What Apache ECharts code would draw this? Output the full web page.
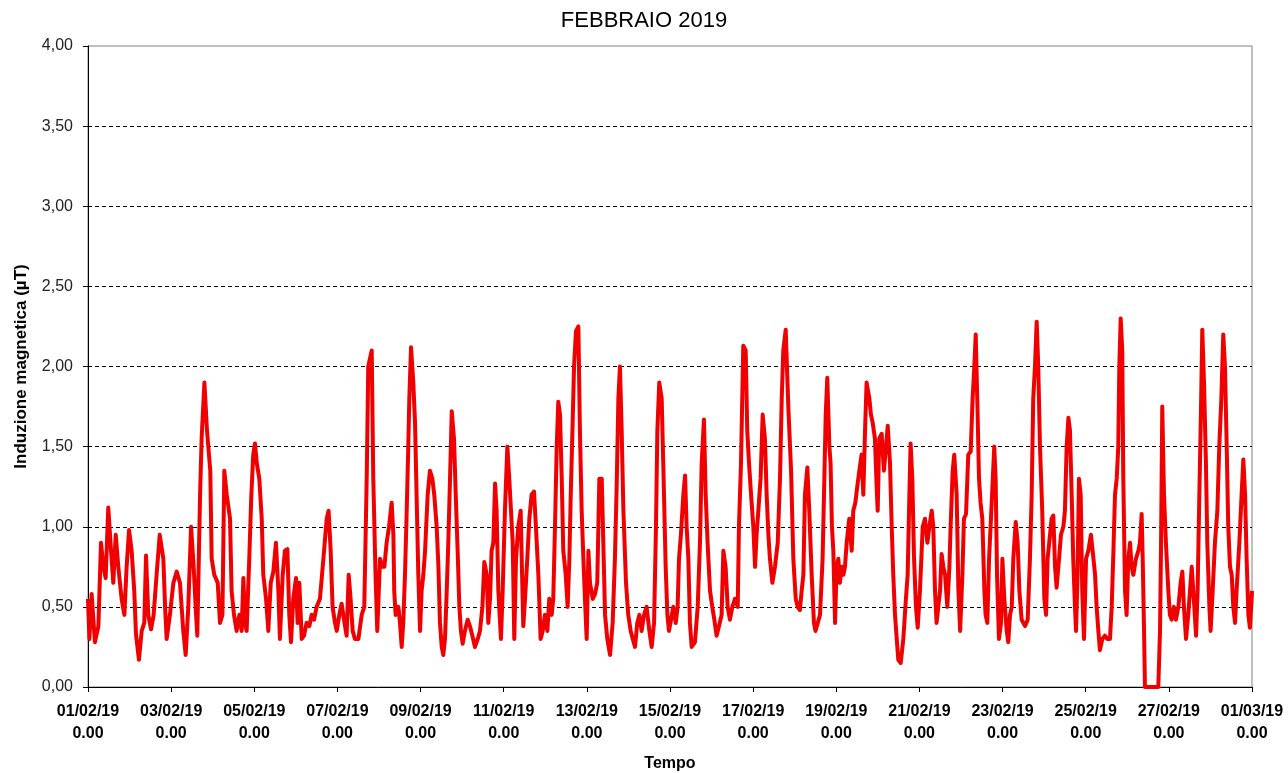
<!DOCTYPE html>
<html>
<head>
<meta charset="utf-8">
<script src="https://cdn.jsdelivr.net/npm/echarts@6/dist/echarts.min.js"></script>
<style>
html,body{margin:0;padding:0;background:#fff;}
#chart{width:1288px;height:773px;}
</style>
</head>
<body>
<div id="chart"></div>
<script>
// Hours elapsed since 01/02/19 0.00
const hours = [0,0.8,2.1,4.0,6.0,7.5,8.9,10.2,11.7,13.3,14.6,16.0,17.5,19.4,21.0,22.3,23.7,25.2,26.7,27.7,29.4,31.0,32.5,33.5,34.8,36.4,37.9,39.6,41.4,43.5,44.5,45.4,47.3,49.3,51.2,53.1,55.0,56.4,57.9,59.5,61.0,62.4,63.1,64.7,65.6,67.2,68.7,70.6,71.4,72.9,74.9,76.2,77.6,78.7,80.1,82.0,82.9,84.3,
85.8,87.4,88.7,89.7,90.6,91.6,93.1,94.3,95.4,96.4,97.4,98.9,100.3,101.2,102.8,104.1,105.5,107.0,108.5,109.9,110.8,112.4,113.7,115.1,116.2,117.2,118.5,120.1,121.0,122.0,123.4,124.7,126.2,127.8,129.1,130.5,132.0,133.9,135.9,137.8,138.9,140.1,141.2,142.6,143.6,145.1,146.4,147.8,149.3,150.5,151.6,152.8,154.1,156.1,158.0,159.5,160.9,161.8,163.8,164.7,166.0,167.0,
168.6,169.9,171.1,172.4,173.8,175.3,176.3,176.8,177.6,179.2,180.1,181.1,182.0,183.0,184.0,184.9,185.5,186.5,187.8,188.8,189.7,190.7,191.7,192.6,193.6,194.6,196.1,197.4,198.8,199.9,201.3,202.3,203.2,204.2,205.1,206.1,207.1,208.0,209.0,210.0,211.3,212.3,213.4,214.4,215.3,216.3,217.6,219.2,220.5,221.9,223.4,225.0,226.3,227.7,228.8,230.2,231.1,232.1,233.0,234.0,235.0,235.9,236.9,238.4,239.4,240.7,242.1,243.2,244.2,245.2,246.1,247.1,248.4,249.8,250.6,
251.3,252.3,253.6,254.8,256.1,257.5,258.6,260.0,261.3,262.5,263.8,265.2,266.3,267.7,268.6,269.6,270.6,271.5,272.5,273.5,274.4,275.8,276.9,277.9,278.7,279.8,280.6,281.7,283.1,284.0,285.0,286.0,286.9,287.9,288.9,289.8,291.4,292.7,294.0,295.2,296.6,297.5,298.5,299.8,301.4,302.9,304.2,305.2,306.2,307.1,308.1,309.1,310.6,311.9,313.3,314.5,315.8,317.1,318.3,319.6,321.0,322.5,324.1,325.4,326.8,327.9,328.7,329.8,331.2,332.1,333.5,334.5,
335.4,336.6,337.9,339.3,340.4,341.2,342.3,343.7,344.7,345.6,346.6,347.5,348.5,350.4,352.0,353.3,354.3,355.6,356.6,357.7,359.1,360.4,361.6,362.9,364.3,365.8,366.8,368.1,369.3,370.6,372.0,373.5,375.1,375.8,377.0,378.3,379.7,380.6,381.6,382.8,384.1,385.1,386.0,387.0,388.3,389.5,390.8,391.8,392.8,393.7,395.1,396.6,398.2,399.5,400.5,401.4,402.8,404.3,405.9,407.2,408.6,409.7,411.0,412.0,413.0,413.9,415.3,416.4,417.8,419.1,
420.0,421.1,422.6,424.1,424.9,425.9,426.8,428.0,428.7,429.5,430.3,431.3,432.2,433.2,434.1,435.1,436.1,437.0,438.0,439.5,440.9,441.8,443.0,444.1,445.3,446.6,447.6,448.6,449.5,451.1,452.0,453.0,454.3,455.3,455.9,456.8,458.2,459.5,460.7,461.7,463.0,464.0,464.9,465.9,466.9,467.8,469.2,470.7,472.2,473.2,474.2,474.9,475.9,476.9,478.0,479.0,480.3,481.9,483.2,484.6,485.7,487.1,488.0,489.0,489.9,490.9,491.9,492.8,493.8,494.8,496.1,497.3,498.0,499.2,500.1,501.5,502.5,
503.5,504.8,505.7,506.9,508.2,509.6,510.7,511.7,512.5,513.6,514.4,515.3,516.3,517.5,518.2,519.2,520.2,521.3,522.3,523.2,524.0,524.8,525.9,527.1,527.9,529.0,530.4,531.3,532.3,533.3,534.2,535.6,536.7,537.7,539.0,541.0,542.5,543.8,544.8,545.7,546.7,547.7,548.6,549.6,550.9,552.1,553.1,554.0,555.4,556.3,557.3,558.3,559.2,560.6,561.7,563.1,564.0,565.0,566.0,566.9,567.9,568.8,569.8,570.4,571.3,572.1,573.1,574.0,575.0,576.2,577.5,579.0,580.0,581.4,582.3,583.3,584.2,585.6,586.5,
587.1,588.5,590.0,591.0,592.0,592.9,593.9,594.8,595.4,596.2,597.1,597.7,598.7,599.6,600.6,601.6,602.5,603.5,605.0,606.4,607.3,608.3,608.9,609.6,610.2,617.9,618.9,619.5,620.2,621.2,622.3,623.7,624.6,625.6,626.9,628.1,629.5,630.8,631.8,632.7,633.9,635.2,636.2,637.2,638.1,638.7,639.7,640.6,641.6,642.5,643.3,644.3,645.4,646.2,647.4,648.1,649.3,650.6,652.0,653.1,654.3,655.4,656.4,657.4,658.3,659.3,660.3,661.2,662.2,663.1,664.7,666.0,667.0,668.0,668.9,669.9,670.8,671.8,672];

// Magnetic induction (µT)
const induction = [0.55,0.3,0.58,0.28,0.38,0.9,0.75,0.68,1.12,0.85,0.65,0.95,0.75,0.55,0.45,0.75,0.98,0.85,0.6,0.33,0.17,0.35,0.4,0.82,0.45,0.36,0.45,0.7,0.95,0.8,0.5,0.3,0.45,0.65,0.72,0.65,0.35,0.2,0.5,1.0,0.75,0.45,0.32,1.2,1.55,1.9,1.6,1.35,0.8,0.7,0.65,0.4,0.45,1.35,1.2,1.05,0.6,0.45,
0.35,0.45,0.35,0.68,0.4,0.35,0.8,1.2,1.45,1.52,1.4,1.3,1.05,0.7,0.55,0.35,0.65,0.72,0.9,0.6,0.3,0.7,0.85,0.86,0.45,0.28,0.55,0.68,0.4,0.65,0.3,0.32,0.4,0.38,0.45,0.42,0.5,0.55,0.8,1.05,1.1,0.85,0.5,0.4,0.35,0.45,0.52,0.42,0.32,0.7,0.55,0.35,0.3,0.3,0.45,0.5,1.3,2.0,2.1,1.3,0.7,0.35,
0.8,0.75,0.75,0.9,1.0,1.15,0.95,0.6,0.45,0.5,0.4,0.25,0.4,0.7,1.1,1.5,1.8,2.12,1.9,1.65,1.2,0.7,0.35,0.6,0.7,0.85,1.2,1.35,1.3,1.2,1.0,0.75,0.4,0.25,0.2,0.3,0.6,0.9,1.3,1.72,1.55,1.2,0.85,0.5,0.35,0.27,0.35,0.42,0.38,0.32,0.25,0.3,0.35,0.5,0.78,0.7,0.4,0.55,0.85,0.9,1.27,1.1,0.6,0.3,0.6,1.1,1.5,1.3,1.1,0.9,0.3,0.8,1.0,1.1,0.7,
0.38,0.55,0.8,1.05,1.2,1.22,1.0,0.7,0.3,0.35,0.45,0.35,0.55,0.45,0.55,1.0,1.5,1.78,1.7,1.3,0.85,0.7,0.5,0.8,1.2,1.65,2.0,2.22,2.25,1.6,1.1,0.8,0.55,0.3,0.85,0.65,0.55,0.58,0.65,1.3,1.3,0.9,0.45,0.3,0.2,0.4,0.8,1.25,1.8,2.0,1.6,1.1,0.65,0.45,0.35,0.3,0.25,0.4,0.45,0.35,0.45,0.5,0.35,0.25,0.4,1.0,1.6,1.9,1.8,1.4,0.75,0.45,
0.35,0.42,0.5,0.4,0.5,0.8,0.95,1.2,1.32,1.0,0.8,0.4,0.25,0.28,0.5,0.9,1.4,1.67,1.2,0.9,0.6,0.5,0.42,0.32,0.38,0.45,0.85,0.75,0.5,0.42,0.5,0.55,0.5,1.0,1.4,2.13,2.1,1.6,1.4,1.2,1.0,0.75,0.95,1.1,1.3,1.7,1.55,1.2,0.95,0.8,0.65,0.75,0.9,1.3,1.8,2.1,2.23,1.75,1.35,0.8,0.55,0.5,0.48,0.6,0.7,1.2,1.37,1.1,0.7,0.4,
0.35,0.35,0.45,0.8,1.2,1.7,1.93,1.5,1.4,1.0,0.85,0.4,0.75,0.8,0.65,0.75,0.7,0.75,0.9,1.05,0.85,1.1,1.15,1.25,1.35,1.45,1.2,1.6,1.9,1.8,1.7,1.65,1.55,1.25,1.1,1.55,1.58,1.35,1.5,1.63,1.4,1.0,0.7,0.45,0.3,0.17,0.15,0.3,0.55,0.7,1.2,1.52,1.3,0.8,0.5,0.37,0.6,1.0,1.05,0.9,1.0,1.1,1.0,0.6,0.4,0.5,0.6,0.83,0.75,0.7,0.5,0.75,1.0,1.35,1.45,1.2,0.6,
0.35,0.7,1.05,1.08,1.45,1.47,1.8,2.0,2.2,1.7,1.3,1.15,1.05,0.6,0.45,0.4,0.8,1.05,1.05,1.5,1.3,0.7,0.3,0.4,0.8,0.55,0.35,0.28,0.45,0.5,0.8,1.03,0.9,0.6,0.42,0.38,0.42,0.8,1.2,1.8,2.0,2.28,2.0,1.5,1.1,0.55,0.45,0.8,0.95,1.05,1.07,0.75,0.62,0.8,0.95,1.0,1.1,1.5,1.68,1.6,1.2,0.8,0.5,0.35,0.7,1.3,1.2,0.6,0.3,0.8,0.85,0.95,0.85,0.7,0.5,0.35,0.23,0.3,0.3,
0.32,0.3,0.3,0.5,0.85,1.2,1.3,1.5,2.0,2.3,2.1,1.3,0.6,0.45,0.8,0.9,0.75,0.7,0.8,0.85,0.9,1.08,0.8,0.4,0,0,0.35,0.9,1.75,1.2,0.9,0.6,0.45,0.42,0.5,0.42,0.5,0.65,0.72,0.5,0.3,0.45,0.6,0.75,0.75,0.5,0.32,0.6,1.2,1.7,2.23,1.9,1.4,0.9,0.5,0.35,0.6,0.9,1.1,1.5,1.8,2.2,2.0,1.5,1.0,0.75,0.7,0.5,0.4,0.6,0.9,1.2,1.42,1.2,0.8,0.45,0.37,0.55,0.6];

const tickDates = ['01/02/19','03/02/19','05/02/19','07/02/19','09/02/19','11/02/19','13/02/19','15/02/19','17/02/19','19/02/19','21/02/19','23/02/19','25/02/19','27/02/19','01/03/19'];
const tickTime = '0.00';
const titleText = 'FEBBRAIO 2019';
const yName = 'Induzione magnetica (µT)';
const xName = 'Tempo';

const FONT = '"Liberation Sans", Arial, sans-serif';
const chart = echarts.init(document.getElementById('chart'), null, {renderer: 'canvas'});
chart.setOption({
  animation: false,
  backgroundColor: '#ffffff',
  title: {
    text: titleText, left: 'center', top: 5,
    textStyle: {fontFamily: FONT, fontSize: 22, fontWeight: 'normal', color: '#000'}
  },
  grid: {left: 88, right: 36, top: 46, bottom: 86, outerBoundsMode: 'none', containLabel: false,
    show: true, borderColor: '#808080', borderWidth: 1, backgroundColor: 'transparent'},
  xAxis: {
    type: 'value', min: 0, max: 672, interval: 48,
    name: xName, nameLocation: 'middle', nameGap: 69,
    nameTextStyle: {fontFamily: FONT, fontSize: 16, fontWeight: 'bold', color: '#000'},
    axisLine: {show: true, lineStyle: {color: '#000', width: 1}},
    axisTick: {show: true, length: 5, lineStyle: {color: '#000'}},
    axisLabel: {
      fontFamily: FONT, fontSize: 16, fontWeight: 'bold', color: '#000', lineHeight: 22, margin: 14,
      formatter: function (v) { const i = Math.round(v / 48); return tickDates[i] + '\n' + tickTime; }
    },
    splitLine: {show: false}
  },
  yAxis: {
    type: 'value', min: 0, max: 4, interval: 0.5,
    name: yName, nameLocation: 'middle', nameGap: 58,
    nameTextStyle: {fontFamily: FONT, fontSize: 17, fontWeight: 'bold', color: '#000'},
    axisLine: {show: true, lineStyle: {color: '#000', width: 1}},
    axisTick: {show: true, length: 5, lineStyle: {color: '#000'}},
    axisLabel: {
      fontFamily: FONT, fontSize: 16, color: '#222', margin: 15,
      formatter: function (v) { return v.toFixed(2).replace('.', ','); }
    },
    splitLine: {show: true, showMaxLine: false, showMinLine: false, lineStyle: {color: '#000', width: 1, type: [4, 3]}}
  },
  series: [{
    type: 'line',
    data: hours.map(function (h, i) { return [h, induction[i]]; }),
    showSymbol: false,
    clip: false,
    lineStyle: {color: '#f00000', width: 4, join: 'round'},
    itemStyle: {color: '#f00000'}
  }]
});
</script>
</body>
</html>
